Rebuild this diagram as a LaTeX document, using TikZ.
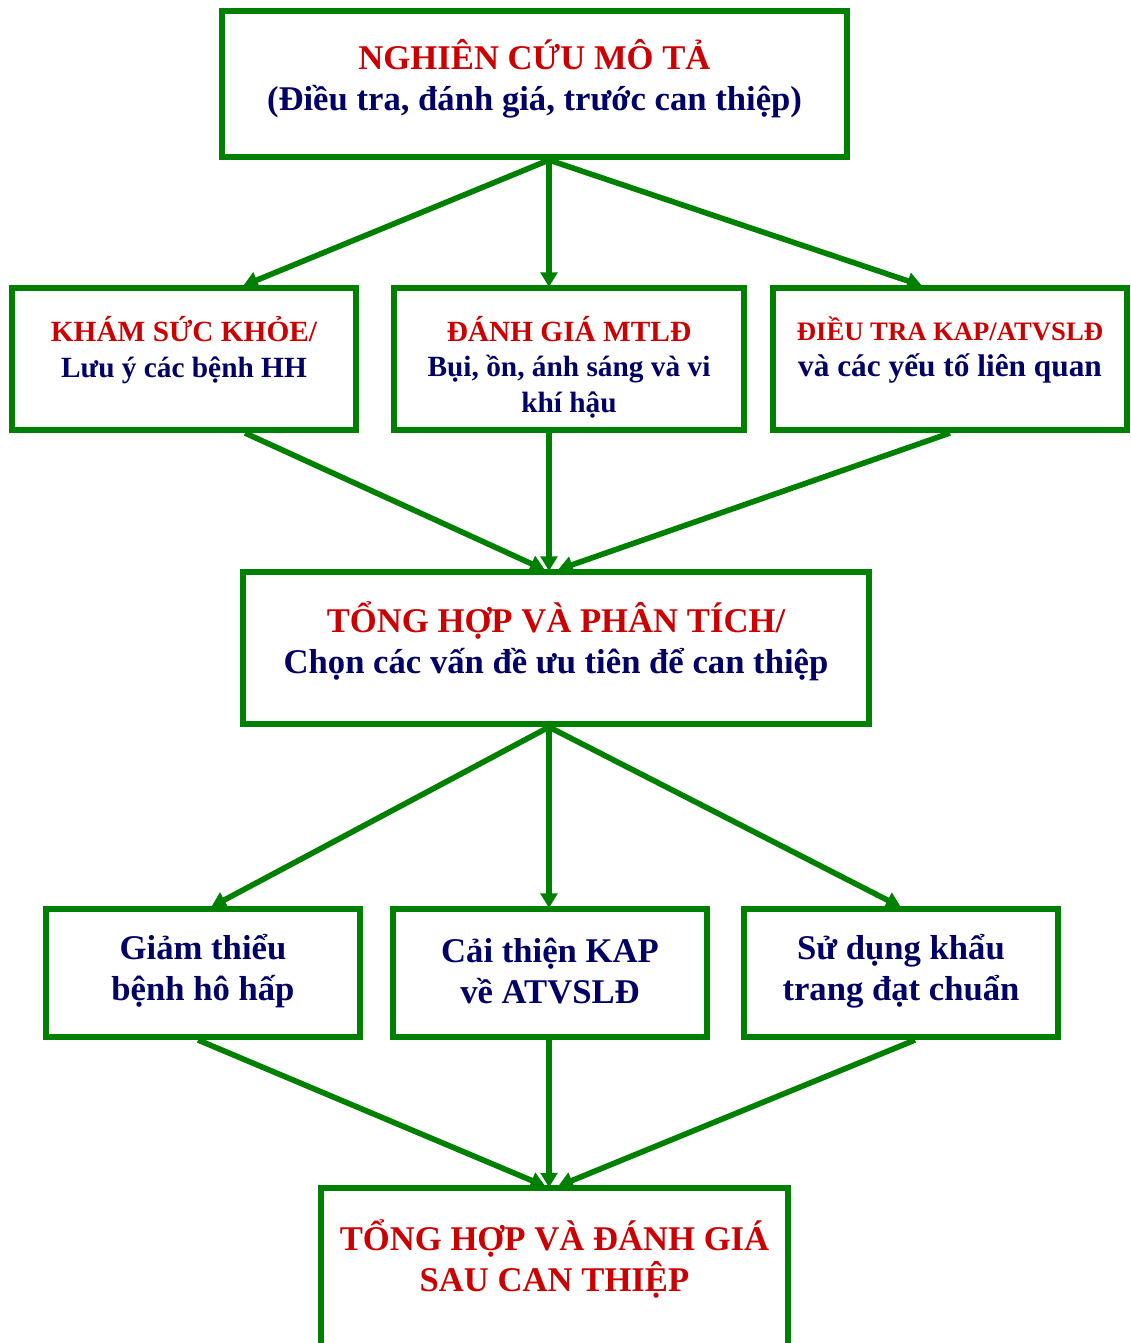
\documentclass[tikz,border=0pt]{standalone}
\usepackage{fontspec}
\setmainfont{Liberation Serif}
\usetikzlibrary{positioning}
\usetikzlibrary{calc}
\usetikzlibrary{arrows.meta}
\definecolor{tgreen}{RGB}{0,128,0}
\definecolor{tred}{RGB}{204,0,0}
\definecolor{tnavy}{RGB}{0,0,102}
\tikzset{
  box/.style={draw=tgreen, line width=4.2pt, rectangle, inner sep=0pt},
  link/.style={draw=tgreen, line width=4.2pt, shorten >=-1.5pt, -{Triangle[length=11pt,width=12.5pt]}},
  txt/.style={align=center, text=tnavy, font=\bfseries\fontsize{26}{31}\selectfont},
  txts/.style={align=center, text=tnavy, font=\bfseries\fontsize{22}{26.5}\selectfont},
}
\begin{document}
\begin{tikzpicture}[x=0.75pt,y=-0.75pt]
            \useasboundingbox (0,0) rectangle (1131,1343);
            \node [box, minimum width=469pt, minimum height=109.8pt] (nghien) at (534.5,84) {};
            \node [txt] (nghien-t) at (534.5,79) {\textcolor{tred}{NGHIÊN CỨU MÔ TẢ}\\(Điều tra, đánh giá, trước can thiệp)};
            % Hang thu hai
            \node [box, minimum width=258.3pt, minimum height=106.8pt] (kham) at (184,359) {};
            \node [box, minimum width=262.8pt, minimum height=106.8pt] (danhgia) at (569,359) {};
            \node [box, minimum width=265.8pt, minimum height=106.8pt] (dieutra) at (950,359) {};
            \node [txts] (kham-t) at (184,350) {\textcolor{tred}{KHÁM SỨC KHỎE/}\\Lưu ý các bệnh HH};
            \node [txts] (danhgia-t) at (569,367) {\textcolor{tred}{ĐÁNH GIÁ MTLĐ}\\Bụi, ồn, ánh sáng và vi\\khí hậu};
            \node [txts] (dieutra-t) at (950,350) {\textcolor{tred}{\fontsize{20}{26.5}\selectfont ĐIỀU TRA KAP/ATVSLĐ}\\\fontsize{23.5}{26.5}\selectfont và các yếu tố liên quan};
            % Tong hop
            \node [box, minimum width=469.8pt, minimum height=114.3pt] (tonghop) at (556,648) {};
            \node [txt] (tonghop-t) at (556,641) {\textcolor{tred}{TỔNG HỢP VÀ PHÂN TÍCH/}\\Chọn các vấn đề ưu tiên để can thiệp};
            % Can thiep
            \node [box, minimum width=235.8pt, minimum height=96.3pt] (giam) at (203,973) {};
            \node [box, minimum width=235.8pt, minimum height=96.3pt] (caithien) at (550,973) {};
            \node [box, minimum width=235.8pt, minimum height=96.3pt] (sudung) at (901,973) {};
            \node [txt] (giam-t) at (203,971) {Giảm thiểu\\bệnh hô hấp};
            \node [txt] (caithien-t) at (550,971) {Cải thiện KAP\\về ATVSLĐ};
            \node [txt] (sudung-t) at (901,971) {Sử dụng khẩu\\trang đạt chuẩn};
            % Danh gia sau
            \node [box, minimum width=350.5pt, minimum height=136.125pt] (sau) at (554.5,1279) {};
            \node [txt] (sau-t) at (554.5,1259) {\textcolor{tred}{TỔNG HỢP VÀ ĐÁNH GIÁ}\\\textcolor{tred}{SAU CAN THIỆP}};
            
            % Mui ten
            \draw [link] ($(nghien.south)+(14.5,0)$) -- ($(kham.north)+(61,0)$);
            \draw [link] ($(nghien.south)+(14.5,0)$) -- ($(danhgia.north)+(-20,0)$);
            \draw [link] ($(nghien.south)+(14.5,0)$) -- ($(dieutra.north)+(-30,0)$);
            \draw [link] ($(kham.south)+(61,0)$) -- ($(tonghop.north)+(-13,0)$);
            \draw [link] ($(danhgia.south)+(-20,0)$) -- ($(tonghop.north)+(-7,0)$);
            \draw [link] (dieutra.south) -- ($(tonghop.north)+(4,0)$);
            \draw [link] ($(tonghop.south)+(-7,0)$) -- ($(giam.north)+(10,0)$);
            \draw [link] ($(tonghop.south)+(-7,0)$) -- ($(caithien.north)+(-1,0)$);
            \draw [link] ($(tonghop.south)+(-7,0)$) -- ($(sudung.north)+(-2,0)$);
            \draw [link] ($(giam.south)+(-5,0)$) -- ($(sau.north)+(-11,0)$);
            \draw [link] ($(caithien.south)+(-1,0)$) -- ($(sau.north)+(-5.5,0)$);
            \draw [link] ($(sudung.south)+(14,0)$) -- ($(sau.north)+(5.5,0)$);
        \end{tikzpicture}
\end{document}
